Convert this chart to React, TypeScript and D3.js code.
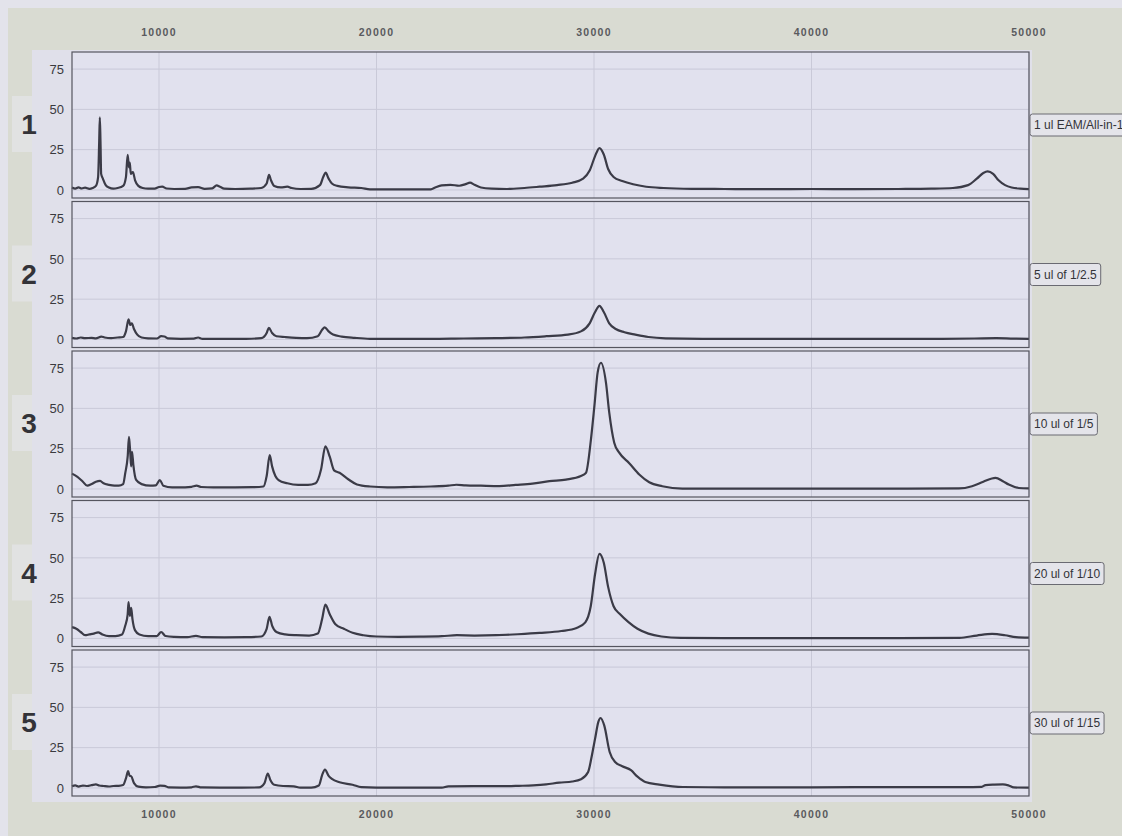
import React, { useMemo } from "react";
import * as d3 from "d3";

// m/z axis ticks and intensity ticks
const mzTicks = [10000, 20000, 30000, 40000, 50000];
const intensityTicks = [0, 25, 50, 75];

const panelNumbers = ["1", "2", "3", "4", "5"];
const sampleLabels = [
  "1 ul EAM/All-in-1",
  "5 ul of 1/2.5",
  "10 ul of 1/5",
  "20 ul of 1/10",
  "30 ul of 1/15",
];

// spectra: [m/z, intensity]
const spectrum1: [number, number][] = [
  [6000, 1.5], [6150, 0.8], [6300, 1.6], [6450, 0.9], [6600, 1.4], [6800, 0.7], [6950, 1.2],
  [7100, 2.5], [7200, 8], [7250, 30], [7280, 45], [7310, 30], [7340, 10], [7420, 7], [7550, 3],
  [7700, 1.5], [7900, 0.8], [8100, 1.2], [8350, 2.5], [8480, 8], [8560, 21.7], [8620, 14],
  [8660, 17], [8700, 10], [8800, 11], [8900, 6], [9050, 2.5], [9250, 1.2], [9500, 0.8],
  [9800, 0.8], [10000, 1.8], [10150, 2], [10350, 0.9], [10700, 0.6], [11200, 0.7], [11500, 1.6],
  [11800, 1.8], [12100, 0.7], [12450, 1], [12650, 2.8], [12800, 2], [13000, 0.8], [13500, 0.6],
  [14200, 0.8], [14700, 1.2], [14950, 4], [15060, 9.3], [15150, 6], [15300, 2.5], [15600, 1.6],
  [15900, 2], [16100, 1.2], [16500, 0.6], [17000, 0.7], [17400, 3], [17550, 8], [17660, 10.7],
  [17800, 7], [17950, 4], [18200, 2.5], [18700, 1.6], [19300, 1.2], [19700, 0.4], [20500, 0.3],
  [21500, 0.3], [22500, 0.4], [22700, 1.5], [23000, 2.8], [23400, 3.2], [23800, 2.6], [24100, 3.6],
  [24300, 4.5], [24500, 3.2], [24800, 1.5], [25300, 0.8], [26000, 0.6], [26800, 1.2], [27500, 2],
  [28300, 3], [29000, 4.5], [29500, 7], [29800, 12], [30050, 21], [30250, 26], [30450, 22],
  [30650, 13], [30900, 8], [31300, 5.5], [31800, 3.5], [32400, 2], [33200, 1.2], [34500, 0.7],
  [36000, 0.6], [38000, 0.5], [40000, 0.6], [42000, 0.5], [44000, 0.6], [45500, 0.8], [46500, 1.2],
  [47200, 3], [47600, 7], [47900, 10.5], [48100, 11.5], [48350, 10], [48600, 6], [48900, 3],
  [49200, 1.5], [49600, 0.8], [50000, 0.5],
];

const spectrum2: [number, number][] = [
  [6000, 1], [6200, 0.6], [6400, 1.2], [6600, 0.8], [6900, 1], [7100, 0.7], [7350, 1.8],
  [7500, 1.2], [7800, 0.8], [8100, 1.2], [8350, 1.5], [8480, 5], [8600, 12.4], [8680, 9],
  [8750, 10], [8850, 6.5], [9000, 3], [9200, 1.2], [9500, 0.7], [9900, 0.6], [10100, 2],
  [10250, 1.8], [10400, 0.7], [11000, 0.4], [11600, 0.5], [11800, 1.2], [12000, 0.4], [13000, 0.3],
  [14000, 0.4], [14700, 0.8], [14950, 4], [15050, 7.2], [15200, 4], [15400, 2], [15800, 1.5],
  [16300, 1], [16800, 0.8], [17300, 2], [17500, 6], [17620, 7.5], [17800, 5], [18000, 3],
  [18400, 1.8], [19000, 1], [19700, 0.4], [21000, 0.3], [22500, 0.3], [24000, 0.6], [25500, 0.8],
  [26800, 1.2], [27800, 2], [28800, 3], [29400, 5], [29800, 10], [30050, 17], [30250, 20.8],
  [30450, 17], [30700, 10], [31000, 6.5], [31400, 4.5], [31900, 3], [32500, 1.5], [33300, 0.7],
  [35000, 0.4], [38000, 0.4], [41000, 0.3], [44000, 0.3], [46000, 0.4], [47500, 0.6], [48500, 0.8],
  [49300, 0.5], [50000, 0.4],
];

const spectrum3: [number, number][] = [
  [6000, 9.5], [6250, 7.5], [6500, 4.5], [6700, 2], [6900, 3], [7100, 4.5], [7290, 5], [7450, 3.5],
  [7700, 2.5], [7950, 2], [8150, 2], [8350, 3], [8450, 10], [8560, 20], [8620, 32.4], [8680, 22],
  [8720, 14], [8760, 23], [8820, 15], [8950, 5.6], [9200, 3], [9600, 2], [9850, 2.2], [10040, 5.5],
  [10200, 2], [10600, 1], [11200, 1], [11500, 1.3], [11725, 2], [11950, 1.2], [12500, 1],
  [13500, 1], [14300, 1.1], [14800, 1.5], [14950, 8], [15090, 21], [15200, 14], [15350, 8],
  [15500, 5.5], [15900, 3.5], [16400, 2.5], [16850, 2.5], [17200, 3.5], [17450, 12], [17650, 26.5],
  [17850, 20], [18050, 11.5], [18300, 10], [18700, 6], [19100, 2.8], [19700, 1.5], [20500, 1],
  [21500, 1.2], [22500, 1.5], [23300, 2], [23670, 2.6], [24100, 2.2], [24800, 2], [25650, 1.8],
  [26400, 2.5], [27170, 3.3], [27950, 4.8], [28710, 5.8], [29400, 8], [29630, 10], [29860, 30.8],
  [30020, 51.7], [30170, 72.5], [30320, 78.3], [30550, 66], [30700, 47.5], [30930, 28.7],
  [31160, 22.5], [31620, 16], [32080, 9], [32540, 4.2], [33140, 1.7], [34060, 0.2], [36000, 0.2],
  [40000, 0.2], [44000, 0.2], [46780, 0.3], [47380, 1.7], [47900, 4.5], [48460, 6.9], [48800, 4.8],
  [49070, 2.7], [49530, 0.6], [50000, 0.3],
];

const spectrum4: [number, number][] = [
  [6000, 7], [6200, 6], [6400, 4], [6600, 2], [6800, 2.5], [7000, 3], [7200, 3.8], [7400, 2.5],
  [7700, 1.5], [8000, 1.5], [8300, 2.5], [8450, 8], [8560, 15], [8600, 22.5], [8660, 14],
  [8720, 19], [8780, 12], [8900, 5], [9100, 2.5], [9500, 1.5], [9900, 1.5], [10100, 4],
  [10300, 1.5], [10700, 1], [11300, 0.8], [11700, 1.6], [12000, 0.8], [13000, 0.7], [14000, 0.8],
  [14700, 1.2], [14950, 6], [15080, 13.4], [15200, 8], [15400, 4], [15800, 2.5], [16300, 2],
  [16900, 1.8], [17300, 3], [17500, 12], [17650, 21], [17850, 15], [18100, 9], [18500, 6],
  [18900, 3.5], [19400, 2], [20000, 1.2], [21000, 1], [22000, 1.1], [23000, 1.4], [23700, 2],
  [24500, 1.8], [25500, 2], [26500, 2.6], [27500, 3.4], [28500, 4.6], [29200, 6.5], [29600, 10],
  [29850, 20], [30050, 40], [30250, 52.5], [30450, 47], [30650, 32], [30900, 20], [31200, 15],
  [31600, 10], [32000, 6], [32500, 3], [33100, 1.2], [34000, 0.3], [36000, 0.2], [40000, 0.2],
  [44000, 0.2], [46800, 0.4], [47600, 1.8], [48300, 2.8], [48900, 2], [49400, 0.8], [50000, 0.5],
];

const spectrum5: [number, number][] = [
  [6000, 1], [6150, 1.6], [6300, 0.8], [6500, 1.5], [6700, 1.2], [6900, 1.7], [7100, 2.2],
  [7250, 1.5], [7450, 1.2], [7700, 0.9], [7900, 1.2], [8150, 1.3], [8350, 1.8], [8480, 6],
  [8580, 10.4], [8650, 7.5], [8720, 7.3], [8850, 3], [9050, 0.8], [9400, 0.4], [9800, 0.6],
  [10050, 1.4], [10250, 1.3], [10450, 0.3], [11000, 0.2], [11500, 0.4], [11700, 1], [11950, 0.3],
  [12800, 0.2], [13800, 0.2], [14600, 0.3], [14850, 3], [15000, 8.9], [15120, 5], [15300, 2],
  [15700, 1.2], [16200, 1], [16500, 0.2], [17000, 0.2], [17350, 1.5], [17500, 8], [17630, 11.4],
  [17800, 7.5], [17950, 5.6], [18300, 3.5], [18900, 2], [19300, 0.5], [20000, 0.2], [21500, 0.2],
  [23000, 0.2], [23300, 1], [24500, 1.1], [26000, 1.1], [26550, 1.3], [27200, 1.6], [27800, 2.2],
  [28400, 3.3], [29000, 4], [29400, 5.4], [29730, 9.9], [29900, 20], [30050, 30.6], [30200, 41],
  [30300, 43.4], [30470, 38.8], [30720, 22.3], [30970, 16.1], [31300, 13.5], [31700, 11],
  [32000, 7], [32360, 3.7], [33000, 2.1], [34090, 0.6], [36000, 0.4], [40000, 0.4], [44000, 0.5],
  [47000, 0.5], [47830, 0.7], [48000, 1.8], [48400, 2.1], [48800, 2.2], [49050, 1.6], [49300, 0.3],
  [50000, 0.2],
];

const spectra = [spectrum1, spectrum2, spectrum3, spectrum4, spectrum5];

const W = 1122;
const H = 836;
const FONT = "'Liberation Sans', Arial, sans-serif";

function textWidth(text: string, font: string): number {
  const c = document.createElement("canvas").getContext("2d");
  if (!c) return text.length * 6;
  c.font = font;
  return c.measureText(text).width;
}

export default function App() {
  const plotLeft = 72;
  const plotRight = 1029;
  const panelTop0 = 52;
  const panelPitch = 149.5;
  const panelH = 146;

  const x = d3.scaleLinear().domain([6000, 50000]).range([plotLeft, plotRight]);

  const legendWidths = useMemo(
    () => sampleLabels.map((t) => textWidth(t, `12px ${FONT}`)),
    []
  );

  return (
    <svg
      width={W}
      height={H}
      style={{ position: "absolute", left: 0, top: 0, display: "block" }}
    >
      {/* page and frame */}
      <rect x={0} y={0} width={W} height={H} fill="#e3e3eb" />
      <rect x={8} y={8} width={W - 8} height={H - 8} fill="#d9dbd2" />
      <rect x={32} y={50} width={1000} height={752} fill="#e0e0ea" />
      {/* lighter patches behind the panel numbers */}
      {panelNumbers.map((_, i) => {
        const top = panelTop0 + i * panelPitch;
        return (
          <rect key={`patch${i}`} x={12} y={top + 44} width={20} height={56} fill="#e1e2e2" />
        );
      })}

      {/* top and bottom m/z labels */}
      {mzTicks.map((t) => (
        <g key={`mz${t}`}>
          <text
            x={x(t)}
            y={36}
            textAnchor="middle"
            fontFamily={FONT}
            fontWeight="bold"
            fontSize={10.5}
            letterSpacing={1.3}
            fill="#5a5a5e"
          >
            {t}
          </text>
          <text
            x={x(t)}
            y={818}
            textAnchor="middle"
            fontFamily={FONT}
            fontWeight="bold"
            fontSize={10.5}
            letterSpacing={1.3}
            fill="#5a5a5e"
          >
            {t}
          </text>
        </g>
      ))}

      {spectra.map((data, i) => {
        const top = panelTop0 + i * panelPitch;
        const y = d3.scaleLinear().domain([-5, 85.6]).range([top + panelH, top]);
        const line = d3
          .line<[number, number]>()
          .x((d) => x(d[0]))
          .y((d) => y(d[1]))
          .curve(d3.curveMonotoneX);
        const lw = legendWidths[i];
        return (
          <g key={`panel${i}`}>
            <rect
              x={plotLeft}
              y={top}
              width={plotRight - plotLeft}
              height={panelH}
              fill="#e1e1ee"
            />
            {intensityTicks.map((t) => (
              <line
                key={`hg${t}`}
                x1={plotLeft}
                x2={plotRight}
                y1={y(t)}
                y2={y(t)}
                stroke="#c9c9d8"
                strokeWidth={1}
              />
            ))}
            {mzTicks.map((t) => (
              <line
                key={`vg${t}`}
                x1={x(t)}
                x2={x(t)}
                y1={top}
                y2={top + panelH}
                stroke="#c9c9d8"
                strokeWidth={1}
              />
            ))}
            <path
              d={line(data) || ""}
              fill="none"
              stroke="#3b3b47"
              strokeWidth={2.2}
              strokeLinejoin="round"
            />
            <rect
              x={plotLeft}
              y={top}
              width={plotRight - plotLeft}
              height={panelH}
              fill="none"
              stroke="#55555f"
              strokeWidth={1.2}
            />
            {intensityTicks.map((t) => (
              <text
                key={`yl${t}`}
                x={64}
                y={y(t)}
                dy="0.36em"
                textAnchor="end"
                fontFamily={FONT}
                fontSize={13}
                fill="#3a3a3e"
              >
                {t}
              </text>
            ))}
            <text
              x={29}
              y={top + 82}
              textAnchor="middle"
              fontFamily={FONT}
              fontWeight="bold"
              fontSize={28}
              fill="#333338"
            >
              {panelNumbers[i]}
            </text>
            <rect
              x={1030}
              y={top + 62}
              width={lw + 8}
              height={22}
              rx={2.5}
              fill="#e4e4ea"
              stroke="#6a6a72"
              strokeWidth={1}
            />
            <text
              x={1034}
              y={top + 73}
              dy="0.36em"
              fontFamily={FONT}
              fontSize={12}
              fill="#333338"
            >
              {sampleLabels[i]}
            </text>
          </g>
        );
      })}
    </svg>
  );
}
